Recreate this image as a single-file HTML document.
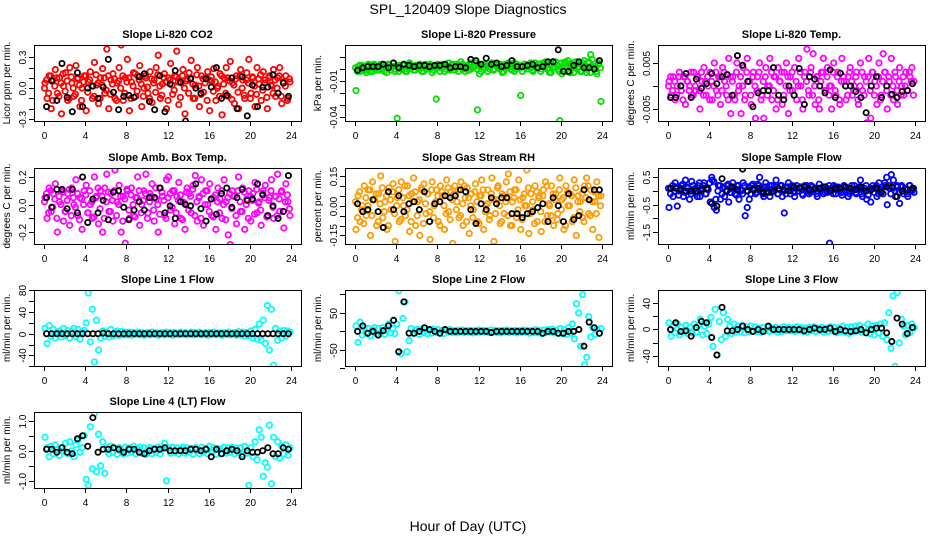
<!DOCTYPE html>
<html><head><meta charset="utf-8"><style>
body{margin:0;background:#fff;}
svg{display:block;font-family:"Liberation Sans",sans-serif;}
</style></head><body>
<svg id="c" width="936" height="540" viewBox="0 0 936 540">
<text x="468" y="14" text-anchor="middle" font-size="14">SPL_120409  Slope Diagnostics</text>
<text x="468" y="531" text-anchor="middle" font-size="14">Hour of Day (UTC)</text>
</svg>
<script>
const xTicks=[0,4,8,12,16,20,24];
const titles=["Slope Li-820 CO2","Slope Li-820 Pressure","Slope Li-820 Temp.","Slope Amb. Box Temp.","Slope Gas Stream RH","Slope Sample Flow","Slope Line 1 Flow","Slope Line 2 Flow","Slope Line 3 Flow","Slope Line 4 (LT) Flow"];
const yTitles=["Licor ppm per min.","kPa per min.","degrees C per min.","degrees C per min.","percent per min.","ml/min per min.","ml/min per min.","ml/min per min.","ml/min per min.","ml/min per min."];
const yTickVals=[[-0.3,-0.2,-0.1,0,0.1,0.2,0.3],[-0.04,-0.03,-0.02,-0.01,0,0.01],[-0.005,0,0.005],[-0.2,-0.1,0,0.1,0.2],[-0.15,-0.1,-0.05,0,0.05,0.1,0.15],[-1.5,-1,-0.5,0,0.5],[-60,-40,-20,0,20,40,60,80],[-100,-50,0,50,100],[-40,-20,0,20,40],[-1,-0.5,0,0.5,1]];
const yTickLabels=[["-0.3","","","0.0","","","0.3"],["-0.04","","","-0.01","",""],["-0.005","","0.005"],["-0.2","","0.0","","0.2"],["-0.15","","","0.00","","","0.15"],["-1.5","","-0.5","","0.5"],["","-40","","0","","40","","80"],["","-50","","50",""],["-40","","0","","40"],["-1.0","","0.0","","1.0"]];
const yRanges=[[-0.32,0.42],[-0.0433,0.02],[-0.0076,0.0089],[-0.286,0.265],[-0.193,0.19],[-1.93,0.84],[-59.5,80.6],[-93.6,112],[-54.4,58.8],[-1.24,1.29]];
const colors=["#ff0000","#00e000","#ff00ff","#ff00ff","#ff9a00","#0000ff","#00ffff","#00ffff","#00ffff","#00ffff"];

const co2=[0.05,-0.1,0.12,-0.2,0.08,0.18,-0.05,0.1,-0.25,0.02,0.15,-0.12,0.2,0.05,-0.08,0.22,0.1,-0.18,0.0,0.12,-0.22,0.06,0.16,-0.1,0.25,0.03,-0.15,0.1,0.19,-0.05,0.38,-0.2,0.08,0.14,-0.1,0.05,0.2,0.42,-0.12,0.1,0.28,-0.22,0.06,0.15,-0.08,0.12,0.22,-0.18,0.0,0.1,-0.05,0.16,-0.14,0.08,0.2,0.32,-0.1,0.04,0.14,-0.2,0.1,0.24,-0.06,0.12,0.36,-0.16,0.05,0.18,-0.25,0.09,0.15,0.27,-0.1,0.03,0.2,-0.18,0.12,-0.04,0.1,0.16,-0.22,0.07,0.19,-0.12,0.02,0.14,-0.26,0.1,0.2,-0.08,0.26,0.05,-0.15,0.12,-0.2,0.18,0.08,-0.1,0.15,0.28,-0.05,0.1,-0.18,0.2,0.04,-0.12,0.16,0.08,-0.2,0.12,0.02,0.18,-0.08,0.1,0.2,-0.15,0.05,0.12,-0.1,0.06];
const co2B=[0.0,0.08,-0.05,0.12,-0.12,0.02,0.1,-0.08,0.05,0.14,-0.03,0.07,-0.1,0.11,0.0,-0.06,0.09,0.03,-0.12,0.06,0.12,-0.04,0.08,0.02,-0.08,0.13,0.05,-0.1,0.03,0.1,-0.02,0.12,-0.06,0.04,0.09,-0.12,0.07,0.0,0.12,-0.05,0.06,0.1,-0.1,0.02,0.14,-0.03,0.08,0.04,-0.08,0.12,0.01,-0.1,0.09,0.05,-0.04,0.13,0.02,-0.07,0.1,0.06,-0.12,0.08,0.03,-0.02,0.11,0.06,-0.09,0.12,0.0,0.07,-0.05,0.1,0.04,-0.1,0.13,0.02,-0.06,0.09,0.05,-0.12,0.08,0.11,-0.03,0.06,0.0,-0.08,0.12,0.04,-0.05,0.1,0.07,-0.11,0.03,0.09,-0.04,0.12,0.0,-0.07,0.08,0.05,-0.1,0.11,0.02,-0.06,0.09,0.13,-0.02,0.05,-0.09,0.1,0.03,-0.05,0.08,0.0,0.12,-0.08,0.06,0.02,-0.12,0.09];
const co2Mean=[-0.18,0.07,-0.12,0.24,-0.09,-0.23,0.15,-0.18,0.0,0.02,-0.1,0.01,0.28,-0.04,-0.21,-0.08,-0.07,-0.09,0.11,0.14,-0.13,-0.21,0.12,-0.23,0.04,0.17,0.06,-0.32,0.09,0.0,-0.05,0.09,0.01,0.2,-0.1,-0.07,0.1,-0.2,0.11,-0.27,0.03,-0.18,0.01,0.01,0.13,-0.05,0.05,-0.08];
const pres=[-0.018,0.002,-0.002,0.003,0.0,-0.003,0.004,0.001,-0.002,0.003,0.002,-0.001,0.004,0.0,0.002,-0.003,0.003,0.001,0.005,-0.002,-0.041,0.003,0.0,0.004,-0.002,0.002,0.005,0.001,-0.001,0.003,0.002,0.004,-0.002,0.001,0.003,0.0,0.004,-0.003,0.002,-0.025,0.003,0.001,0.004,-0.002,0.002,0.005,0.0,0.003,-0.001,0.004,0.002,0.006,0.001,-0.002,0.003,0.004,0.0,0.002,0.005,-0.034,-0.004,0.003,0.001,0.004,-0.002,0.002,0.005,0.0,0.003,0.001,0.004,-0.003,0.002,0.003,0.005,0.0,0.002,-0.002,0.004,0.003,-0.022,0.002,0.004,0.0,0.003,0.001,-0.002,0.005,0.002,0.004,0.0,0.003,0.006,0.001,-0.003,0.004,0.002,0.006,0.0,-0.043,-0.004,0.005,0.002,0.007,-0.003,0.004,0.001,0.006,0.002,-0.002,0.005,0.003,-0.003,0.006,0.012,0.001,0.004,-0.004,0.005,-0.027];
const presB=[0.001,-0.002,0.003,0.0,0.002,-0.001,0.003,-0.002,0.001,0.004,-0.001,0.002,0.0,0.003,-0.002,0.001,0.004,-0.001,0.002,0.0,0.003,-0.002,0.001,0.003,0.0,-0.002,0.004,0.001,0.002,-0.001,0.003,0.0,0.002,-0.002,0.004,0.001,0.0,0.003,-0.001,0.002,0.004,-0.002,0.001,0.003,0.0,0.002,-0.001,0.004,0.001,0.003,-0.002,0.002,0.004,0.0,0.003,-0.001,0.005,0.001,0.002,0.0,0.003,-0.002,0.004,0.001,0.002,0.0,0.003,-0.001,0.004,0.002,0.0,0.003,-0.002,0.004,0.001,0.002,-0.001,0.005,0.0,0.003,0.001,-0.002,0.004,0.002,0.0,0.005,-0.001,0.003,0.001,0.004,-0.002,0.005,0.002,0.0,0.004,-0.003,0.006,0.001,0.003,-0.002,0.005,0.0,0.006,-0.002,0.003,0.005,-0.003,0.006,0.001,0.004,-0.002,0.007,0.0,0.005,-0.003,0.008,0.002,-0.002,0.004,0.001];
const presMean=[-0.001,0.001,0.002,0.002,0.002,0.004,0.001,0.005,0.001,0.004,0.003,0.002,0.003,0.003,0.002,0.003,0.003,0.004,0.001,0.002,0.002,0.001,0.008,0.007,0.004,0.009,0.004,0.005,0.002,0.003,0.007,0.002,0.002,0.003,0.004,0.001,0.002,0.006,0.006,0.016,-0.002,-0.002,0.003,0.006,0.001,0.001,0.0,0.007];
const temp=[0.001,-0.002,0.002,-0.003,0.0,0.003,-0.001,0.002,-0.004,0.001,0.0,-0.002,0.003,-0.001,0.002,-0.005,0.001,0.004,-0.002,0.0,0.003,-0.003,0.005,-0.001,0.002,-0.004,0.004,0.001,-0.002,0.006,-0.006,0.002,-0.003,0.005,0.0,-0.006,0.004,-0.002,0.006,0.001,-0.004,0.003,-0.007,0.002,0.005,-0.002,-0.007,0.004,0.0,0.006,-0.003,0.002,-0.005,0.004,0.001,-0.004,0.003,0.005,-0.006,0.002,-0.001,0.004,-0.003,0.006,0.0,-0.005,0.003,0.008,-0.002,0.004,0.007,-0.004,0.002,-0.005,0.003,0.006,-0.001,0.004,0.0,-0.005,0.005,-0.002,0.003,-0.004,0.006,0.001,-0.003,0.002,0.004,-0.002,0.0,0.003,-0.004,0.005,-0.001,0.002,-0.008,0.006,-0.007,0.003,0.001,-0.004,0.005,-0.002,0.007,0.003,-0.005,0.001,0.006,-0.003,0.002,-0.004,0.004,0.0,-0.002,0.003,-0.001,0.002,0.004,0.001];
const tempB=[0.0,0.002,-0.001,0.001,-0.002,0.002,0.0,-0.003,0.002,0.001,-0.001,0.003,-0.002,0.0,0.002,-0.001,0.003,-0.002,0.001,0.002,-0.003,0.001,0.0,0.003,-0.002,0.002,-0.001,0.003,0.0,-0.003,0.002,0.001,-0.002,0.003,-0.001,0.002,0.0,-0.003,0.003,0.001,-0.002,0.002,0.0,-0.001,0.003,-0.003,0.001,0.002,-0.002,0.0,0.003,-0.001,0.002,-0.003,0.001,0.003,-0.002,0.0,0.002,-0.001,0.003,-0.002,0.001,0.0,0.003,-0.003,0.002,0.001,-0.001,0.003,-0.002,0.0,0.002,-0.003,0.001,0.003,-0.001,0.002,-0.002,0.0,0.003,-0.001,0.002,-0.003,0.001,0.002,0.0,-0.002,0.003,0.001,-0.001,0.002,-0.003,0.0,0.003,-0.002,0.001,0.002,-0.001,0.003,-0.002,0.0,0.002,-0.003,0.001,0.003,-0.001,0.002,-0.002,0.0,0.003,-0.001,0.001,-0.002,0.002,0.0,-0.001,0.003,0.001,-0.002];
const tempMean=[-0.0025,-0.0025,0.0,0.0027,-0.0025,0.0015,-0.0005,0.0005,0.0027,0.0005,0.002,0.0025,-0.002,0.0066,0.0045,0.001,-0.0045,-0.0015,-0.001,-0.001,0.004,-0.002,-0.003,0.0,-0.002,0.0038,-0.004,0.002,0.0015,0.0,-0.0015,0.0035,-0.0025,0.0028,0.0,0.0,-0.0012,-0.0025,-0.0058,0.0,0.002,-0.0025,0.0,-0.0018,-0.0025,-0.0012,-0.001,0.0005];
const amb=[0.05,-0.1,0.12,-0.05,0.08,0.15,-0.2,0.02,0.1,-0.12,-0.05,0.08,-0.15,0.12,0.0,0.18,-0.08,0.05,-0.18,0.1,0.14,-0.06,0.0,-0.1,0.2,0.06,-0.14,0.1,-0.2,0.12,0.22,-0.05,0.08,-0.12,0.25,0.02,0.14,-0.2,0.06,-0.28,0.1,-0.1,0.12,-0.08,0.05,0.2,-0.15,0.0,0.1,0.22,-0.06,0.08,0.15,-0.12,0.04,-0.2,0.12,0.06,-0.08,0.18,0.2,-0.04,0.1,-0.14,0.06,0.16,-0.1,0.02,-0.18,0.12,0.08,-0.06,0.14,0.21,-0.12,0.06,0.18,-0.15,0.1,0.0,0.15,-0.08,0.05,-0.18,0.12,0.04,-0.1,0.18,0.02,-0.22,-0.29,0.1,0.06,-0.14,0.2,-0.05,0.12,-0.18,0.04,0.1,-0.12,0.08,0.16,-0.06,0.02,-0.15,0.1,0.14,-0.08,0.05,0.18,-0.1,0.06,0.22,-0.05,0.1,-0.17,0.15,0.02,-0.08];
const ambB=[0.02,0.08,-0.06,0.1,-0.02,0.04,-0.1,0.06,0.0,0.09,-0.05,0.03,0.11,-0.08,0.05,-0.02,0.08,-0.11,0.04,0.0,0.07,-0.06,0.1,0.02,-0.09,0.05,0.12,-0.03,0.06,-0.1,0.02,0.09,-0.05,0.03,0.1,-0.08,0.0,0.06,-0.12,0.04,0.11,-0.04,0.07,0.0,-0.09,0.05,0.1,-0.06,0.03,0.08,-0.1,0.02,0.06,-0.04,0.12,0.0,-0.07,0.09,0.03,-0.1,0.05,0.08,-0.02,0.1,-0.06,0.03,0.07,-0.11,0.01,0.09,-0.04,0.06,0.11,-0.08,0.02,0.05,-0.1,0.08,0.0,0.1,-0.05,0.04,-0.09,0.07,0.02,-0.06,0.1,0.0,-0.11,0.05,0.08,-0.03,0.06,-0.08,0.1,0.02,-0.05,0.09,0.0,-0.1,0.06,0.03,-0.07,0.11,0.01,-0.04,0.08,0.05,-0.09,0.03,0.1,-0.02,0.06,-0.08,0.04,0.09,-0.05,0.02,0.07,-0.03];
const ambMean=[0.05,-0.02,0.11,0.11,-0.03,0.11,-0.06,0.2,-0.13,0.04,-0.06,0.03,-0.11,0.09,0.1,-0.02,-0.11,-0.04,0.02,-0.04,0.05,0.05,0.12,-0.06,-0.01,-0.1,0.02,0.0,-0.01,0.15,-0.03,-0.12,0.04,-0.07,0.08,0.12,-0.02,0.05,0.11,0.03,0.04,0.15,0.07,-0.08,-0.01,-0.1,-0.05,0.21];
const rh=[-0.12,0.05,-0.08,0.0,0.1,-0.05,0.08,-0.15,0.12,0.03,-0.1,0.06,0.15,-0.06,0.02,-0.12,0.09,-0.02,0.11,-0.18,0.04,-0.08,0.12,0.0,-0.05,0.1,-0.13,0.06,0.14,-0.1,0.02,-0.15,0.08,0.11,-0.04,0.06,-0.17,0.12,0.0,0.08,-0.08,0.1,0.05,-0.12,0.13,-0.03,0.07,-0.19,0.1,0.02,-0.06,0.12,-0.1,0.04,0.09,-0.14,0.06,-0.02,0.11,-0.08,0.05,0.13,-0.12,0.0,0.08,-0.05,0.14,-0.18,0.03,0.1,-0.09,0.06,-0.04,0.12,0.16,-0.1,0.02,0.08,-0.06,0.13,-0.12,0.04,0.0,0.18,-0.14,0.06,-0.02,0.1,-0.08,0.05,-0.13,0.08,0.12,-0.05,0.0,0.1,-0.1,0.06,-0.04,0.14,0.03,-0.12,0.1,0.0,0.06,-0.08,0.13,-0.15,0.05,0.02,-0.06,0.1,0.14,-0.04,0.08,-0.12,0.02,0.12,-0.16,0.05];
const rhB=[0.02,-0.06,0.07,-0.02,-0.09,0.04,0.0,0.08,-0.05,0.03,0.06,-0.08,0.01,0.09,-0.03,0.05,-0.1,0.03,0.07,-0.04,0.0,0.08,-0.07,0.04,0.1,-0.02,0.05,-0.08,0.02,0.07,-0.05,0.03,0.09,-0.09,0.01,0.06,-0.03,0.08,-0.06,0.02,0.05,-0.1,0.07,0.0,-0.04,0.09,-0.07,0.03,0.06,-0.02,0.08,-0.05,0.01,0.1,-0.08,0.04,0.0,-0.06,0.07,0.02,-0.09,0.05,0.08,-0.03,0.01,-0.07,0.06,0.03,-0.04,0.09,0.0,-0.08,0.05,0.02,-0.05,0.07,-0.1,0.04,0.08,-0.02,0.03,-0.07,0.06,0.0,0.09,-0.04,0.02,-0.09,0.07,0.04,-0.03,0.05,-0.08,0.1,0.01,-0.05,0.06,0.03,-0.07,0.08,-0.02,0.04,-0.1,0.07,0.0,0.05,-0.06,0.09,0.02,-0.03,0.06,-0.08,0.04,0.1,-0.05,0.02,0.07,-0.04,0.05,0.0];
const rhMean=[0.01,-0.03,-0.02,0.03,-0.03,-0.11,0.07,-0.02,0.05,-0.03,0.01,0.02,-0.02,0.07,-0.08,0.01,0.02,0.05,0.04,0.05,0.08,0.07,-0.02,-0.09,0.01,-0.02,0.04,0.01,0.04,0.04,-0.04,-0.04,-0.06,-0.04,-0.03,-0.01,0.01,-0.08,0.04,0.0,-0.08,0.06,-0.07,-0.05,0.08,0.03,0.08,0.08];
const sflow=[-0.6,0.1,-0.2,0.3,-0.55,0.0,0.2,-0.2,0.4,0.1,-0.3,0.35,0.05,-0.1,0.2,-0.2,0.1,0.3,-0.1,0.05,-0.4,0.4,-0.6,-0.7,0.2,-0.3,0.1,-0.2,0.2,-0.4,0.1,0.3,-0.1,0.2,-0.3,0.0,0.3,-0.9,-0.6,-0.3,0.2,0.1,-0.1,0.25,0.5,0.0,-0.2,0.3,0.1,-0.2,0.2,0.0,0.4,-0.1,0.2,-0.2,-0.8,0.1,0.3,-0.1,0.1,-0.2,0.2,0.0,0.15,-0.15,0.2,0.05,-0.1,0.2,0.0,0.1,-0.2,0.25,0.05,-0.1,0.15,-0.05,-1.9,0.1,0.2,-0.1,0.15,0.0,-0.15,0.2,0.05,-0.2,0.1,0.0,0.2,-0.1,0.15,0.4,-0.2,0.1,-0.3,0.05,-0.4,0.2,0.1,-0.2,0.3,0.0,-0.1,0.2,-0.5,0.1,0.6,0.4,-0.2,0.15,-0.45,0.2,-0.1,0.1,-0.2,0.2,0.0,-0.05];
const sflowB=[0.1,-0.1,0.2,0.0,0.15,-0.15,0.1,0.25,-0.05,0.15,0.0,-0.1,0.2,0.1,-0.2,0.3,0.0,0.2,-0.1,0.1,0.3,0.5,0.35,-0.3,0.0,0.2,-0.1,0.15,0.0,0.25,-0.05,0.15,0.1,-0.15,0.2,0.05,-0.1,0.2,0.0,0.15,-0.1,0.25,0.05,-0.05,0.2,0.1,-0.1,0.15,0.0,0.2,-0.05,0.1,0.15,-0.1,0.05,0.2,0.0,-0.1,0.15,0.05,0.2,-0.05,0.1,0.0,0.15,-0.1,0.05,0.2,0.0,-0.05,0.15,0.05,-0.1,0.1,0.0,0.15,-0.05,0.1,0.2,0.0,-0.1,0.15,0.05,0.1,-0.05,0.15,0.0,0.1,-0.1,0.2,0.05,-0.05,0.1,0.15,-0.1,0.0,0.2,-0.15,0.05,0.1,-0.05,0.2,-0.1,0.05,0.15,0.3,0.5,0.2,-0.1,0.1,0.0,0.2,-0.05,0.15,0.0,0.1,-0.1,0.2,0.05,0.1];
const sflowMean=[0.1,0.1,0.05,0.0,0.0,0.0,0.05,0.1,-0.45,-0.55,0.45,0.0,0.15,0.05,0.8,0.0,0.05,0.1,-0.05,-0.05,0.0,0.1,0.05,0.0,0.15,0.1,0.15,0.05,0.1,0.1,0.15,0.0,0.1,0.1,0.15,0.1,0.05,0.15,0.0,0.05,0.1,-0.05,0.15,0.15,-0.2,0.0,0.05,0.1];
const line1=[10,-18,15,-5,8,-8,3,5,-6,10,-3,6,-8,4,10,-5,8,-10,3,6,20,75,-15,45,-52,25,-30,-8,5,-5,3,-6,8,-4,2,5,-3,4,-2,3,-2,3,-3,2,-1,3,-2,2,-3,1,2,-2,3,-1,2,-3,1,2,-2,3,-1,2,-3,2,1,-2,3,-1,2,-2,1,3,-2,2,-1,3,-2,1,2,-3,2,-1,3,-2,1,2,-3,2,-1,3,-2,1,2,-3,4,-2,3,-4,2,-3,5,-8,8,-10,18,-12,25,-18,52,-30,45,-58,10,-12,5,-8,6,-4,5,3];
const line1Mean=[0,0,0,0,0,0,0,0,0,0,0,1,0,0,0,0,0,0,0,0,0,0,0,0,0,0,0,0,0,0,0,0,0,0,0,0,0,0,0,0,0,0,0,0,0,0,0,0];
const line2=[15,-30,25,-10,10,-5,8,-12,5,10,-6,8,-5,10,-8,6,20,-4,8,-6,20,110,-60,35,80,-55,-25,8,-5,3,6,-8,5,-3,8,-6,4,-5,6,-3,5,-4,3,-6,4,-2,5,-3,2,-4,3,-2,4,-3,2,-2,3,-4,2,-3,4,-2,3,-2,2,-3,4,-2,3,-3,2,-4,3,-2,4,-3,2,-2,3,-4,2,-3,4,-2,3,-5,2,-3,5,-4,3,-6,4,-3,5,-2,6,-4,3,-5,8,-6,5,-8,10,-5,20,-20,75,50,-40,100,-90,-70,40,-15,10,-8,6,-5,8];
const line2Mean=[0,15,-5,0,-10,2,15,30,-55,80,-5,-5,0,10,5,0,-5,5,0,0,0,0,0,0,0,0,-3,0,0,0,0,0,0,0,0,0,-5,0,0,-5,-5,0,0,5,-40,25,10,-5];
const line3=[10,-10,5,-5,8,-8,3,-3,6,-6,4,-5,8,-4,6,15,-8,5,-6,8,18,-25,30,-38,12,-15,25,-10,15,5,-6,8,-4,5,-3,6,-5,4,-3,5,-2,4,-3,2,-4,3,-2,4,-3,2,-2,3,-4,2,-3,4,-2,3,-2,2,-3,4,-2,3,-3,2,-4,3,-2,4,-3,2,-2,3,-4,2,-3,4,-2,3,-5,2,-3,5,-4,3,-6,4,-3,5,-2,6,-4,3,-5,8,-6,5,-8,6,-5,8,-10,10,-15,25,-28,50,-55,55,-20,15,5,-8,6,-5,8,3];
const line3Mean=[0,10,-3,-2,-10,3,12,10,-12,-38,33,-2,-2,0,5,0,-3,0,-3,5,0,0,0,0,0,0,-2,0,2,0,0,2,-3,0,-2,-3,-2,0,-5,0,2,2,-5,-18,17,8,-6,3];
const line4=[0.45,0.1,-0.2,0.15,-0.1,0.2,0.05,-0.15,0.1,0.0,0.25,-0.1,0.3,0.0,-0.2,0.2,0.35,-0.05,0.1,0.5,-0.95,-1.15,0.8,-0.6,1.25,-0.7,0.55,-0.5,0.3,-0.75,0.1,-0.1,0.15,-0.05,0.08,-0.12,0.1,0.0,-0.1,0.12,-0.08,0.1,-0.05,0.15,-0.1,0.05,0.12,-0.08,0.1,-0.12,0.05,0.1,-0.1,0.08,-0.05,0.12,-0.1,0.05,0.25,-1.0,0.1,-0.08,0.12,-0.05,0.1,-0.1,0.05,0.12,-0.08,0.1,-0.05,0.08,-0.12,0.1,0.05,-0.1,0.12,-0.05,0.08,-0.1,0.15,-0.05,0.1,-0.12,0.08,0.05,-0.1,0.12,-0.08,0.1,-0.05,0.12,-0.1,0.08,-0.05,0.1,-0.12,0.15,-0.08,-1.15,0.1,-0.2,0.3,-0.3,0.7,0.45,-0.85,-0.4,-0.55,0.85,-1.1,0.45,-0.2,0.3,-0.25,0.15,-0.1,0.2,-0.15,0.1];
const line4Mean=[0.05,0.05,-0.05,0.1,-0.05,-0.1,0.4,0.5,0.15,1.1,-0.05,0.05,0.05,0.1,0.05,-0.05,0.05,0.05,-0.05,-0.1,0.0,0.05,0.05,0.1,0.0,0.0,0.0,0.0,0.05,0.05,0.0,0.05,-0.2,0.05,-0.1,0.0,0.05,0.0,-0.2,0.0,-0.05,-0.05,0.0,0.1,-0.1,-0.1,0.1,0.05];

const seriesAll=[co2,pres,temp,amb,rh,sflow,line1,line2,line3,line4];
const seriesExtra=[co2B,presB,tempB,ambB,rhB,sflowB,null,null,null,null];
const meansAll=[co2Mean,presMean,tempMean,ambMean,rhMean,sflowMean,line1Mean,line2Mean,line3Mean,line4Mean];

const NS="http://www.w3.org/2000/svg";
const svg=document.getElementById('c');
const lefts=[34,345,658],tops=[45,168,290,412],W=267,H=76,XMIN=-0.97,XMAX=24.97;
function mk(tag,attrs,parent){const e=document.createElementNS(NS,tag);for(const k in attrs)e.setAttribute(k,attrs[k]);(parent||svg).appendChild(e);return e;}

for(let p=0;p<10;p++){
  const L=lefts[p%3],T=tops[Math.floor(p/3)];
  const [ymin,ymax]=yRanges[p];
  const sx=v=>L+(v-XMIN)/(XMAX-XMIN)*W;
  const sy=v=>T+H-(v-ymin)/(ymax-ymin)*H;
  const g=mk('g',{});
  
  
  const t=mk('text',{x:L+W/2,y:T-7,'text-anchor':'middle','font-size':'11','font-weight':'bold'},g);
  t.textContent=titles[p];
  
  
  const yt=mk('text',{transform:`translate(${L-24},${T+H/2}) rotate(-90)`,'text-anchor':'middle','font-size':'10'},g);
  yt.textContent=yTitles[p];
  
  
  const clip='clip'+p;
  const cp=mk('clipPath',{id:clip},g);mk('rect',{x:L,y:T,width:W,height:H},cp);
  const pg=mk('g',{'clip-path':`url(#${clip})`},g);
  const ex=seriesExtra[p];
  if(ex){
    const ne=ex.length;
    ex.forEach((v,i)=>{
      const c=mk('circle',{cx:sx(i*24/ne+0.05),cy:sy(v),r:2.7,fill:'none',stroke:colors[p],'stroke-width':1.8},pg);
      
      
    });
  }
  const s=seriesAll[p],n=s.length;
  s.forEach((v,i)=>{
    const c=mk('circle',{cx:sx((i+0.5)*24/n),cy:sy(v),r:2.7,fill:'none',stroke:colors[p],'stroke-width':1.8},pg);
    
    
  });
  const m=meansAll[p],nm=m.length;
  m.forEach((v,i)=>{
    const c=mk('circle',{cx:sx((i+0.5)*24/nm),cy:sy(v),r:2.6,fill:'none',stroke:'#000','stroke-width':1.8},pg);
    
    
  });
  const box=mk('rect',{x:L+0.5,y:T+0.5,width:W,height:H,fill:'none',stroke:'#000','stroke-width':1},g);
  
  
  xTicks.forEach(v=>{
    const x=Math.round(sx(v))+0.5;
    mk('line',{x1:x,x2:x,y1:T+H,y2:T+H+5,stroke:'#000'},g);
    const tl=mk('text',{x:x,y:T+H+18,'text-anchor':'middle','font-size':'10'},g);
    tl.textContent=v;
    
    
  });
  yTickVals[p].forEach((v,k)=>{
    const y=Math.round(sy(v))+0.5;
    mk('line',{x1:L-5,x2:L,y1:y,y2:y,stroke:'#000'},g);
    const lab=yTickLabels[p][k];
    if(lab){
      const tl=mk('text',{transform:`translate(${L-8},${y}) rotate(-90)`,'text-anchor':'middle','font-size':'10'},g);
      tl.textContent=lab;
      
      
    }
  });
}
</script>
</body></html>
